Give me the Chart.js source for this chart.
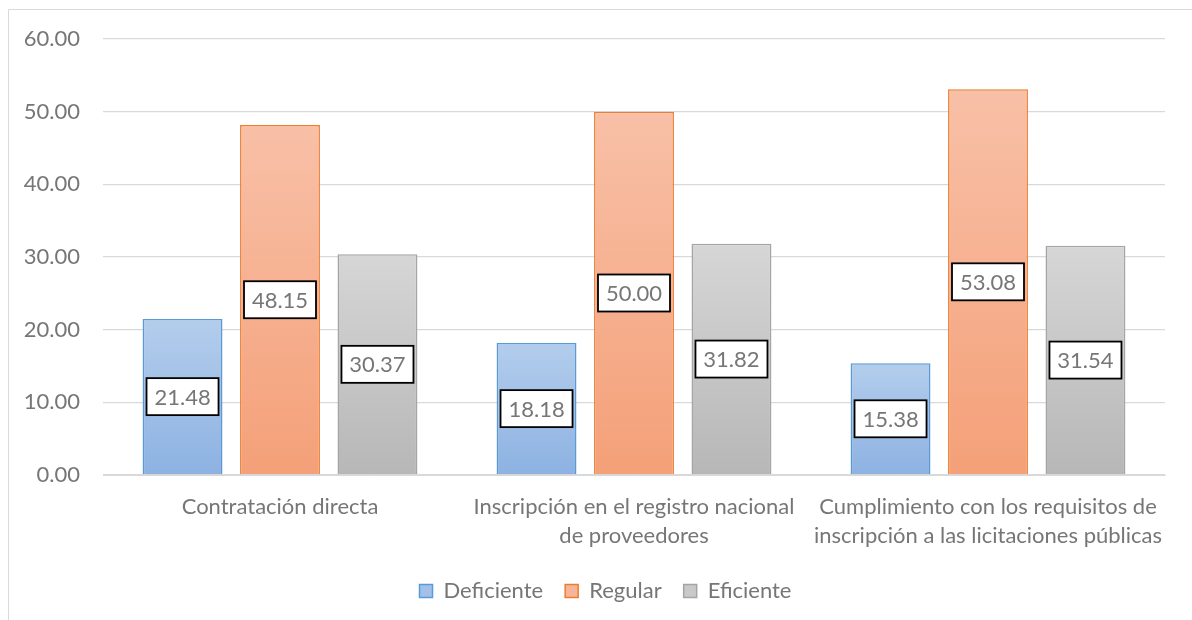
<!DOCTYPE html>
<html>
<head>
<meta charset="utf-8">
<script src="https://cdn.jsdelivr.net/npm/chart.js@4.4.0/dist/chart.umd.min.js"></script>
<style>
  html, body { margin: 0; padding: 0; background: #ffffff; }
  #wrap { position: relative; width: 1192px; height: 620px; }
</style>
</head>
<body>
<div id="wrap"><canvas id="c" width="1192" height="620"></canvas></div>
<script>
const categories = [
  "Contratación directa",
  ["Inscripción en el registro nacional", "de proveedores"],
  ["Cumplimiento con los requisitos de", "inscripción a las licitaciones públicas"]
];
const seriesNames = ["Deficiente", "Regular", "Eficiente"];
const deficiente = [21.48, 18.18, 15.38];
const regular = [48.15, 50.00, 53.08];
const eficiente = [30.37, 31.82, 31.54];
const yTicks = [0, 10, 20, 30, 40, 50, 60];

const FONT = "Lato, 'Open Sans', sans-serif";
const FS = 22;
const TXT = "#767676";

const palette = [
  { top: "#b3cdec", bottom: "#8db2e2", border: "#5b9bd5", legend: "#a3c1e8" },
  { top: "#f8c0a7", bottom: "#f4a078", border: "#ed7d31", legend: "#f6b597" },
  { top: "#d6d6d6", bottom: "#b7b7b7", border: "#a5a5a5", legend: "#c9c9c9" }
];

function gradFill(idx) {
  return function (ctx) {
    const chart = ctx.chart;
    const ys = chart.scales.y;
    if (!ys || ctx.raw === undefined || ctx.type !== 'data') return palette[idx].legend;
    const top = ys.getPixelForValue(ctx.raw);
    const base = ys.getPixelForValue(0);
    if (!isFinite(top) || !isFinite(base) || top === base) return palette[idx].legend;
    const g = chart.ctx.createLinearGradient(0, top, 0, base);
    g.addColorStop(0, palette[idx].top);
    g.addColorStop(1, palette[idx].bottom);
    return g;
  };
}

const frame = {
  id: 'frame',
  beforeDraw(chart) {
    const c = chart.ctx;
    c.save();
    c.strokeStyle = "#d9d9d9";
    c.lineWidth = 1;
    c.beginPath();
    c.moveTo(8.5, 640);
    c.lineTo(8.5, 9.5);
    c.lineTo(1200, 9.5);
    c.stroke();
    c.restore();
  }
};

const legendShift = {
  id: 'legendShift',
  afterLayout(chart) {
    const l = chart.legend;
    if (l) { l.left += 23; l.right += 23; }
  }
};

const boxLabels = {
  id: 'boxLabels',
  afterDatasetsDraw(chart) {
    const c = chart.ctx;
    c.save();
    c.font = FS + "px " + FONT;
    c.textAlign = "center";
    c.textBaseline = "middle";
    chart.data.datasets.forEach((ds, di) => {
      const meta = chart.getDatasetMeta(di);
      meta.data.forEach((bar, i) => {
        const txt = ds.data[i].toFixed(2);
        const cx = bar.x;
        const cy = (bar.y + bar.base) / 2;
        const w = 72, h = 37;
        c.fillStyle = "#ffffff";
        c.fillRect(cx - w / 2, cy - h / 2, w, h);
        c.strokeStyle = "#000000";
        c.lineWidth = 1.8;
        c.strokeRect(cx - w / 2, cy - h / 2, w, h);
        c.fillStyle = TXT;
        c.fillText(txt, cx, cy + 1);
      });
    });
    c.restore();
  }
};

const seriesData = [deficiente, regular, eficiente];

new Chart(document.getElementById('c'), {
  type: 'bar',
  data: {
    labels: categories,
    datasets: seriesNames.map((n, i) => ({
      label: n,
      data: seriesData[i],
      backgroundColor: gradFill(i),
      borderColor: palette[i].border,
      borderWidth: 1.5,
      borderSkipped: 'bottom',
      categoryPercentage: 0.826,
      barPercentage: 0.82
    }))
  },
  options: {
    responsive: false,
    animation: false,
    layout: { padding: { top: 39, right: 27, bottom: 8, left: 0 } },
    plugins: {
      legend: {
        position: 'bottom',
        labels: {
          font: { family: FONT, size: FS },
          color: TXT,
          boxWidth: 13,
          boxHeight: 13,
          padding: 22,
          generateLabels(chart) {
            return chart.data.datasets.map((ds, i) => ({
              text: ds.label,
              fillStyle: palette[i].legend,
              strokeStyle: palette[i].border,
              lineWidth: 1.5,
              fontColor: TXT,
              hidden: false,
              datasetIndex: i
            }));
          }
        }
      },
      tooltip: { enabled: false }
    },
    scales: {
      x: {
        grid: { display: false, drawTicks: false },
        border: { display: true, color: "#d9d9d9", width: 1 },
        ticks: {
          font: { family: FONT, size: FS, lineHeight: 1.32 },
          color: TXT,
          padding: 17,
          maxRotation: 0,
          autoSkip: false
        },
        afterFit(s) { s.height = 83; }
      },
      y: {
        min: 0,
        max: 60,
        afterBuildTicks(s) { s.ticks = yTicks.map(v => ({ value: v })); },
        grid: { color: "#d9d9d9", lineWidth: 1.3, drawTicks: false },
        border: { display: false },
        ticks: {
          font: { family: FONT, size: FS },
          color: TXT,
          padding: 23,
          callback: v => Number(v).toFixed(2)
        },
        afterFit(s) { s.width = 103; }
      }
    }
  },
  plugins: [frame, legendShift, boxLabels]
});
</script>
</body>
</html>
